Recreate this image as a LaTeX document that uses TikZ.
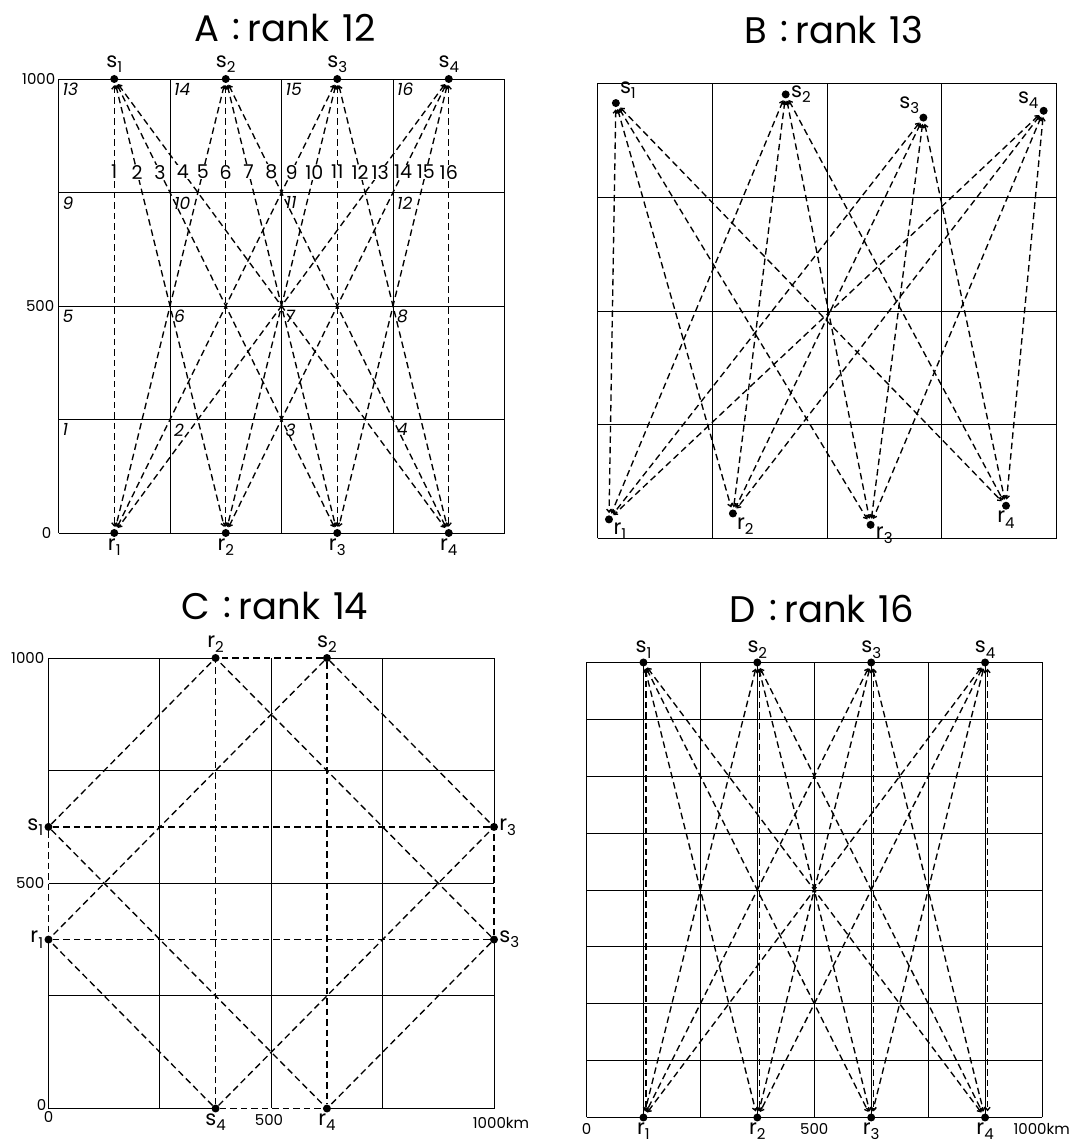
\documentclass[tikz,border=0pt]{standalone}
\usepackage{fontspec}
\setmainfont{Poppins}
\usetikzlibrary{arrows.meta}
\tikzset{
  gridline/.style={line width=0.9pt},
  ray/.style={line width=1.35pt, dash pattern=on 6.5pt off 4pt},
  aray/.style={ray, {Straight Barb[length=3pt,width=5pt]}-{Straight Barb[length=3pt,width=5pt]}, shorten <=2pt, shorten >=2pt},
  dot/.style={circle, fill, inner sep=0pt, minimum size=8pt},
  lab/.style={font=\fontsize{21}{21}\selectfont, inner sep=1pt},
  ttl/.style={font=\fontsize{37}{37}\selectfont, inner sep=0pt},
  axl/.style={font=\fontsize{15}{15}\selectfont, inner sep=1pt},
  cellno/.style={font=\fontsize{17}{17}\selectfont\itshape, inner sep=1pt},
  pnum/.style={font=\fontsize{19}{19}\selectfont, inner sep=0.5pt, fill=white},
}
\newcommand{\sr}[2]{#1\raisebox{-0.45ex}{\fontsize{15}{15}\selectfont #2}}
\newcommand{\ttltext}[2]{#1\hspace{0.35em}\raisebox{0.1ex}{:}\hspace{0.2em}rank\hspace{0.35em}#2}
\begin{document}
\begin{tikzpicture}
\useasboundingbox (0,0) rectangle (1089pt,1144pt);
% titles
\node[ttl] (tA) at (285pt,1116pt) {\ttltext{A}{12}};
\node[ttl] (tB) at (834pt,1114pt) {\ttltext{B}{13}};
\node[ttl] (tC) at (275pt,538pt) {\ttltext{C}{14}};
\node[ttl] (tD) at (822pt,535pt) {\ttltext{D}{16}};

% ---------------- Panel A ----------------
\begin{scope}[shift={(58.5pt,611pt)}, x=0.446pt, y=0.454pt]
  \foreach \v in {0,250,...,1000} {
    \draw[gridline] (\v,0) -- (\v,1000);
    \draw[gridline] (0,\v) -- (1000,\v);
  }
  \foreach \n in {1,...,16} {
    \pgfmathtruncatemacro\cc{mod(\n-1,4)}
    \pgfmathtruncatemacro\rr{(\n-1)/4}
    \node[cellno, anchor=north west, xshift=3pt, yshift=-3pt] (Ac\n) at ({250*\cc},{250*(\rr+1)}) {\n};
  }
  \foreach \i in {1,...,4} {
    \node[dot, label={[lab,label distance=1pt]above:\sr{s}{\i}}] (As\i) at ({250*\i-125},1000) {};
    \node[dot, label={[lab,label distance=0pt]below:\sr{r}{\i}}] (Ar\i) at ({250*\i-125},0) {};
  }
  \foreach \i in {1,...,4} \foreach \j in {1,...,4} \draw[aray] (As\i) -- (Ar\j);
  \foreach \i in {1,...,4} \foreach \j in {1,...,4} {
    \pgfmathtruncatemacro\k{4*(\i-1)+\j}
    \node[pnum] (An\k) at ({250*\j-125+0.795*250*(\i-\j)},795) {\k};
  }
  \node[axl, anchor=east, xshift=-2pt] (Ay1) at (0,1000) {1000};
  \node[axl, anchor=east, xshift=-3pt] (Ay2) at (0,500) {500};
  \node[axl, anchor=east, xshift=-6pt] (Ay3) at (0,0) {0};
\end{scope}

% ---------------- Panel B ----------------
\begin{scope}[shift={(597.5pt,605.5pt)}, x=0.459pt, y=0.455pt]
  \foreach \v in {0,250,...,1000} {
    \draw[gridline] (\v,0) -- (\v,1000);
    \draw[gridline] (0,\v) -- (1000,\v);
  }
  \node[dot, label={[lab]45:\sr{s}{1}}] (Bs1) at (40,957) {};
  \node[dot, label={[lab]0:\sr{s}{2}}] (Bs2) at (410,976) {};
  \node[dot, label={[lab]135:\sr{s}{3}}] (Bs3) at (710,925) {};
  \node[dot, label={[lab]165:\sr{s}{4}}] (Bs4) at (972,940) {};
  \node[dot, label={[lab]-35:\sr{r}{1}}] (Br1) at (25,42) {};
  \node[dot, label={[lab]-45:\sr{r}{2}}] (Br2) at (295,55) {};
  \node[dot, label={[lab]-10:\sr{r}{3}}] (Br3) at (595,30) {};
  \node[dot, label={[lab]-90:\sr{r}{4}}] (Br4) at (890,72) {};
  \foreach \i in {1,...,4} \foreach \j in {1,...,4} \draw[aray] (Bs\i) -- (Br\j);
\end{scope}

% ---------------- Panel C ----------------
\begin{scope}[shift={(48.5pt,35.5pt)}, x=0.4455pt, y=0.4505pt]
  \foreach \v in {250,500,750} {
    \draw[gridline] (\v,0) -- (\v,1000);
    \draw[gridline] (0,\v) -- (1000,\v);
  }
  \draw[gridline] (375,1000) -- (0,1000) -- (0,625);
  \draw[gridline] (0,375) -- (0,0) -- (375,0);
  \draw[gridline] (625,0) -- (1000,0) -- (1000,375);
  \draw[gridline] (1000,625) -- (1000,1000) -- (625,1000);
  \node[dot, label={[lab]left:\sr{s}{1}}] (Cs1) at (0,625) {};
  \node[dot, label={[lab,label distance=0pt]above:\sr{s}{2}}] (Cs2) at (625,1000) {};
  \node[dot, label={[lab]right:\sr{s}{3}}] (Cs3) at (1000,375) {};
  \node[dot, label={[lab,label distance=0pt]below:\sr{s}{4}}] (Cs4) at (375,0) {};
  \node[dot, label={[lab]left:\sr{r}{1}}] (Cr1) at (0,375) {};
  \node[dot, label={[lab,label distance=0pt]above:\sr{r}{2}}] (Cr2) at (375,1000) {};
  \node[dot, label={[lab]right:\sr{r}{3}}] (Cr3) at (1000,625) {};
  \node[dot, label={[lab,label distance=0pt]below:\sr{r}{4}}] (Cr4) at (625,0) {};
  \foreach \i in {1,...,4} \foreach \j in {1,...,4} \draw[ray] (Cs\i) -- (Cr\j);
  \node[axl, anchor=east, xshift=-3pt] (Cy1) at (0,1000) {1000};
  \node[axl, anchor=east, xshift=-3pt] (Cy2) at (0,500) {500};
  \node[axl, anchor=east, xshift=-1pt, yshift=4pt] (Cy3) at (0,0) {0};
  \node[axl, anchor=north, yshift=-2pt] (Cx1) at (0,0) {0};
  \node[axl, anchor=north, yshift=-5pt] (Cx2) at (495,0) {500};
  \node[axl, anchor=north west, yshift=-8pt] (Cx3) at (950,0) {1000km};
\end{scope}

% ---------------- Panel D ----------------
\begin{scope}[shift={(586.5pt,26.5pt)}, x=0.4555pt, y=0.455pt]
  \foreach \v in {0,125,...,1000} {
    \draw[gridline] (\v,0) -- (\v,1000);
    \draw[gridline] (0,\v) -- (1000,\v);
  }
  \foreach \i in {1,...,4} {
    \node[dot, label={[lab,label distance=-1pt]above:\sr{s}{\i}}] (Ds\i) at ({250*\i-125},1000) {};
    \node[dot, label={[lab,label distance=0pt]below:\sr{r}{\i}}] (Dr\i) at ({250*\i-125},0) {};
  }
  \foreach \i in {1,...,4} \foreach \j in {1,...,4} {
    \ifnum\i=\j
      \draw[aray] ([xshift=2.5pt]Ds\i.south) -- ([xshift=2.5pt]Dr\j.north);
    \else
      \draw[aray] (Ds\i) -- (Dr\j);
    \fi
  }
  \node[axl, anchor=north, yshift=-5pt] (Dx1) at (0,0) {0};
  \node[axl, anchor=north, yshift=-5pt] (Dx2) at (500,0) {500};
  \node[axl, anchor=north west, yshift=-5pt] (Dx3) at (935,0) {1000km};
\end{scope}
\end{tikzpicture}
\end{document}
